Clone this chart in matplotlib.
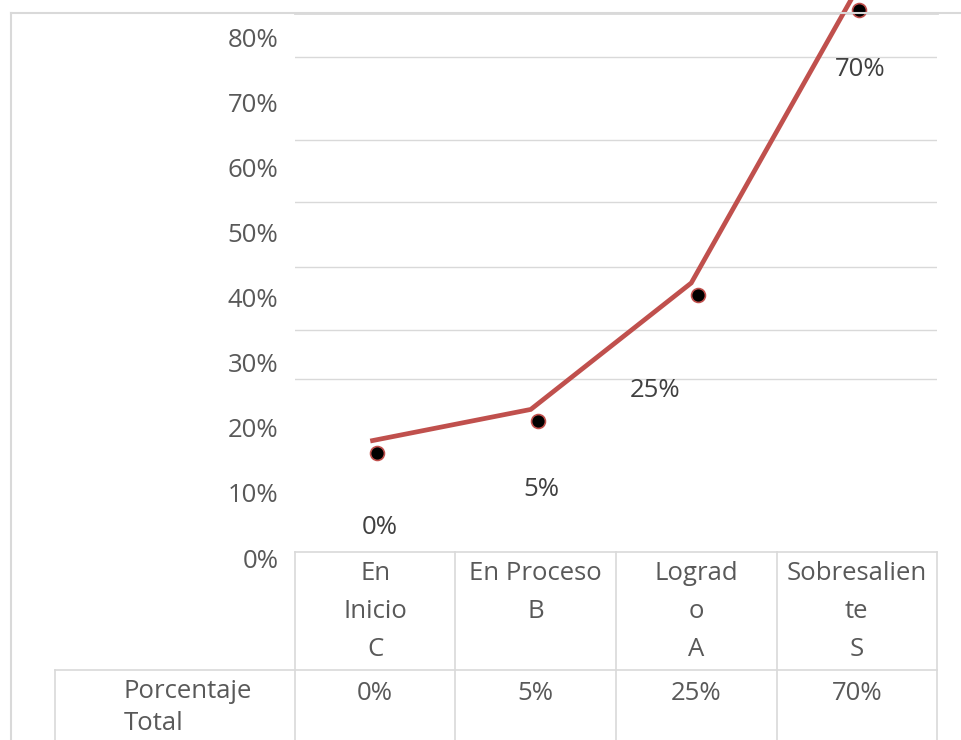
import matplotlib
matplotlib.use("Agg")
import matplotlib.pyplot as plt
import matplotlib.transforms as mtransforms
from matplotlib.lines import Line2D

# datos
categorias = ["En\nInicio\nC", "En Proceso\nB", "Lograd\no\nA", "Sobresalien\nte\nS"]
porcentajes = [0, 5, 25, 70]
valores_y = [0, 10, 20, 30, 40, 50, 60, 70, 80]
etiquetas_y = ["0%", "10%", "20%", "30%", "40%", "50%", "60%", "70%", "80%"]
rejilla = [27.5, 35, 44.7, 54.7, 64.2, 77]
fila_nombre = "Porcentaje\nTotal"

# desplazamiento de las etiquetas de datos (pixeles)
etiqueta_dx = [5, 6, -41, 3]
etiqueta_dy = [86, 80, 108, 71]

plt.rcParams['font.family'] = ['Open Sans', 'DejaVu Sans']

W, H = 962, 740
fig = plt.figure(figsize=(W / 100, H / 100), dpi=100)


def fx(px):
    return px / W


def fy(py):
    return 1 - py / H


def desplaza(dx, dy):
    # dx, dy en pixeles (dy positivo = hacia abajo)
    return mtransforms.ScaledTranslation(dx / 100, -dy / 100, fig.dpi_scale_trans)


gris = '#D9D9D9'
texto = '#595959'
fs = 18.5

# ejes de la rejilla y etiquetas del eje y
pos = [fx(295), fy(558), fx(937) - fx(295), fy(13) - fy(558)]
ax = fig.add_axes(pos)
ax.set_xlim(-0.5, 3.5)
ax.set_ylim(0, 83.7)
ax.set_yticks(valores_y, etiquetas_y)
ax.set_yticks(rejilla, minor=True)
ax.set_xticks([])
ax.tick_params(axis='y', which='both', length=0, pad=12, labelsize=fs, labelcolor=texto)
ax.grid(axis='y', which='minor', color=gris, lw=1)
for s in ['left', 'right', 'bottom']:
    ax.spines[s].set_visible(False)
ax.spines['top'].set_color(gris)
ax.spines['top'].set_linewidth(2)

# ejes de la linea (escala propia)
ax2 = fig.add_axes(pos)
ax2.set_xlim(-0.5, 3.5)
ax2.set_ylim(-18.5, 67.7)
ax2.axis('off')

x = list(range(len(porcentajes)))
ax2.plot(x, porcentajes, color='#C0504D', lw=3.4, solid_capstyle='butt',
         solid_joinstyle='miter', clip_on=False,
         transform=ax2.transData + desplaza(-5, 0))
ax2.plot(x, porcentajes, 'o', ms=10, mfc='black', mec='#C0504D', mew=1.2,
         clip_on=False, zorder=3, transform=ax2.transData + desplaza(2, 12))

for i, v in enumerate(porcentajes):
    ax2.annotate(f"{v}%", (i, v), xytext=(etiqueta_dx[i] * 0.72, -etiqueta_dy[i] * 0.72),
                 textcoords='offset points', ha='center', va='center',
                 fontsize=fs, color='#404040', annotation_clip=False)

# tabla de datos
mix = mtransforms.blended_transform_factory(ax.transData, fig.transFigure)
bordes = [-0.5, 0.5, 1.5, 2.5, 3.5]
fig.add_artist(Line2D([-0.5, 3.5], [fy(552), fy(552)], transform=mix, color=gris, lw=1.2))
for b in bordes:
    fig.add_artist(Line2D([b, b], [fy(552), 0], transform=mix, color=gris, lw=1.2))
fig.add_artist(Line2D([fx(55), fx(937)], [fy(670), fy(670)], color=gris, lw=1.2))
fig.add_artist(Line2D([fx(55), fx(55)], [fy(670), 0], color=gris, lw=1.2))

for i, c in enumerate(categorias):
    fig.text(i, fy(561), c, transform=mix, ha='center', va='top',
             multialignment='center', linespacing=1.68, fontsize=fs, color=texto)
    fig.text(i, fy(693), f"{porcentajes[i]}%", transform=mix, ha='center',
             va='center', fontsize=fs, color=texto)
fig.text(fx(124), fy(679), fila_nombre, ha='left', va='top', linespacing=1.38,
         fontsize=fs, color=texto)

# borde del grafico
fig.add_artist(Line2D([fx(11), fx(11)], [fy(12.5), 0], color=gris, lw=1.5))
fig.add_artist(Line2D([fx(11), 1], [fy(12.5), fy(12.5)], color=gris, lw=1.5))

fig.savefig('out.png', dpi=100)
